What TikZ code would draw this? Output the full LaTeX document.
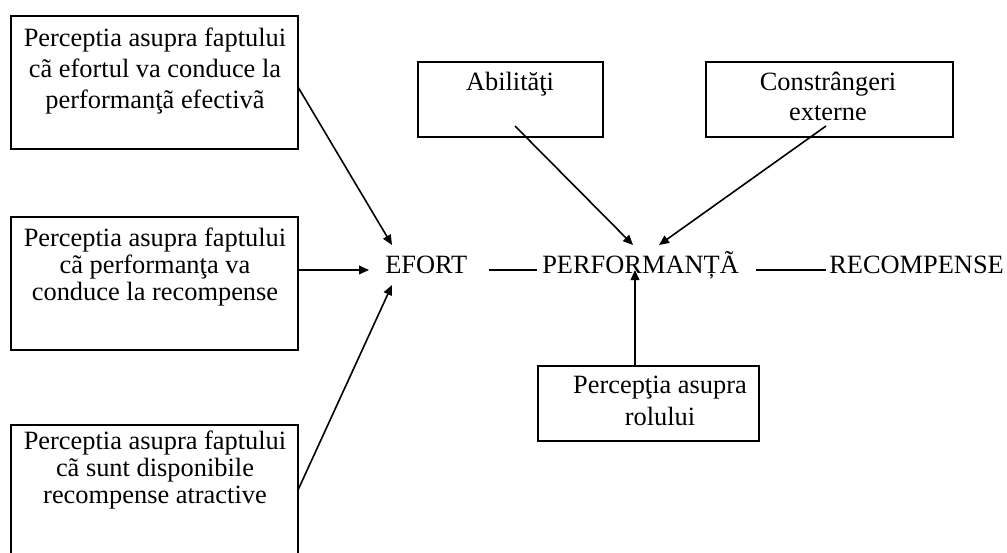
\documentclass[tikz,border=0pt]{standalone}
\usepackage{fontspec}
\setmainfont{Liberation Serif}
\usetikzlibrary{arrows.meta,calc}
\begin{document}
\begin{tikzpicture}[x=0.75pt,y=-0.75pt,
  box/.style={draw,line width=2pt,inner sep=0,outer sep=0,anchor=north west},
  txt/.style={inner sep=0,anchor=base,align=center},
  word/.style={inner sep=0,anchor=base west,font=\fontsize{19.8pt}{20.25pt}\selectfont},
  arr/.style={line width=1.2pt,-{Triangle[length=7.5pt,width=6.5pt]}},
  link/.style={line width=1.8pt}]
\useasboundingbox (0,0) rectangle (1007,553);
\clip (0,0) rectangle (1007,553);
% boxes
\node[box,minimum width=215.25pt,minimum height=99.75pt] (b1) at (11,16) {};
\node[box,minimum width=215.25pt,minimum height=99.75pt] (b2) at (11,217) {};
\node[box,minimum width=215.25pt,minimum height=105pt] (b3) at (11,425) {};
\node[box,minimum width=138.75pt,minimum height=56.25pt] (ba) at (418,62) {};
\node[box,minimum width=185.25pt,minimum height=56.25pt] (bc) at (706,62) {};
\node[box,minimum width=165.75pt,minimum height=56.25pt] (br) at (538,366) {};
% box texts (base anchor = last line's baseline)
\node[txt,font=\fontsize{19.8pt}{22.9pt}\selectfont] (t1) at (155,108) {Perceptia asupra faptului\\cã efortul va conduce la\\performanţã efectivã};
\node[txt,font=\fontsize{19.8pt}{20.25pt}\selectfont] (t2) at (155,300) {Perceptia asupra faptului\\cã performanţa va\\conduce la recompense};
\node[txt,font=\fontsize{19.8pt}{20.25pt}\selectfont] (t3) at (155,503) {Perceptia asupra faptului\\cã sunt disponibile\\recompense atractive};
\node[txt,font=\fontsize{19.8pt}{22.5pt}\selectfont] (ta) at (510,90) {Abilităţi};
\node[txt,font=\fontsize{19.8pt}{22.5pt}\selectfont] (tc) at (828,120) {Constrângeri\\externe};
\node[txt,font=\fontsize{19.8pt}{24pt}\selectfont] (tr) at (660,425) {Percepţia asupra\\rolului};
% main words
\node[word] (ef) at (385,273) {EFORT};
\node[word] (pf) at (542,273) {PERFORMANȚÃ};
\node[word] (rc) at (829,273) {RECOMPENSE};
% links
\draw[link] ($(ef.base east)+(21,-3)$) -- ($(pf.base west)+(-5,-3)$);
\draw[link] ($(pf.base east)+(16.5,-3)$) -- ($(rc.base west)+(-3,-3)$);
% arrows to EFORT
\draw[arr] ($(b1.east)+(0,4.5)$) -- ($(ef.base west)+(7,-28)$);
\draw[arr] ($(b2.east)+(0,-13.5)$) -- ($(ef.base west)+(-16,-3)$);
\draw[arr] ($(b3.north east)+(0,65)$) -- ($(ef.base west)+(7,12)$);
% arrows to PERFORMANTA
\draw[arr] ($(ba.south)+(4.5,-11)$) -- ($(pf.base west)+(91,-28)$);
\draw[arr] ($(bc.south)+(-3.5,-11)$) -- ($(pf.base west)+(117,-28)$);
\draw[arr] ($(br.north)+(-13.5,0)$) -- ($(pf.base west)+(93,-3)$);
\end{tikzpicture}
\end{document}
